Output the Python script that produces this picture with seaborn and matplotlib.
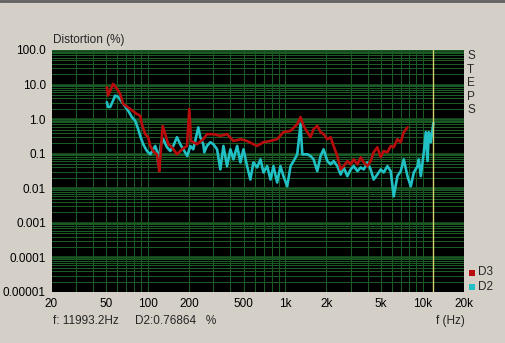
import matplotlib
matplotlib.use("Agg")
import matplotlib.pyplot as plt
import matplotlib.patches as mpatches
from matplotlib.ticker import FixedLocator, LogLocator, NullFormatter
import numpy as np
import pandas as pd
import seaborn as sns

# ---------------- data ----------------
d3_freq = [50.5, 51.6, 56.1, 59.7, 63.1, 66.4, 74.7, 83.5, 88.3, 90.8, 96.1, 101, 104.5, 109.9,
           116.9, 119.5, 121.5, 128.8, 134.4, 141.3, 150.3, 163.5, 177.8, 193.3, 201, 207, 228.6,
           254, 270, 300.7, 338, 378, 421, 473, 529, 588, 626, 696, 783, 875, 973, 1095, 1225,
           1295, 1362, 1449, 1532, 1611, 1714, 1811, 1905, 2028, 2143, 2253, 2398, 2535, 2666,
           2837, 2999, 3154, 3357, 3548, 3733, 3966, 4190, 4406, 4690, 4958, 5214, 5546, 5862,
           6165, 6559, 6934, 7291, 7762]
d3_pct = [8.45, 4.81, 10.5, 7.55, 5.39, 2.76, 1.97, 1.41, 1.26, 0.72, 0.368, 0.30, 0.168, 0.117,
          0.096, 0.056, 0.031, 0.63, 0.37, 0.188, 0.154, 0.096, 0.134, 0.168, 1.97, 0.234, 0.188,
          0.263, 0.368, 0.368, 0.328, 0.368, 0.234, 0.263, 0.234, 0.188, 0.168, 0.215, 0.234, 0.263,
          0.421, 0.459, 0.72, 1.15, 0.643, 0.421, 0.30, 0.514, 0.643, 0.421, 0.368, 0.263, 0.30,
          0.168, 0.0857, 0.0351, 0.0437, 0.0612, 0.0491, 0.0687, 0.0491, 0.0785, 0.0561, 0.0437,
          0.0612, 0.110, 0.154, 0.0785, 0.120, 0.110, 0.168, 0.154, 0.263, 0.215, 0.421, 0.577]

d2_freq = [50.5, 51.6, 53.4, 56.1, 58.0, 61.1, 66.4, 72.2, 76.8, 81.2, 85.4, 88.3, 92.9, 98.8,
           104.5, 109.9, 113.6, 116.9, 119.5, 125, 130, 138.3, 146.2, 153.7, 163.5, 172.8, 181.8,
           194.4, 204.5, 214.9, 233.6, 241.7, 254, 258.6, 270, 286, 300.7, 320, 338, 356, 378, 400,
           421, 448, 473, 498, 529, 559, 588, 626, 662, 696, 741, 783, 823, 875, 925, 973, 1036,
           1095, 1152, 1225, 1295, 1333, 1449, 1532, 1611, 1714, 1811, 1905, 2028, 2143, 2253,
           2398, 2535, 2666, 2837, 2999, 3154, 3357, 3548, 3733, 3966, 4190, 4406, 4690, 4958,
           5214, 5546, 5862, 6165, 6559, 6934, 7291, 7762, 8204, 8630, 9185, 9380, 9705, 10200,
           10550, 10860, 11100, 11480, 11810, 11993]
d2_pct = [3.09, 2.25, 2.25, 3.44, 4.81, 4.41, 2.76, 1.76, 1.15, 0.898, 0.514, 0.328, 0.188, 0.120,
          0.096, 0.134, 0.168, 0.120, 0.0491, 0.188, 0.263, 0.154, 0.120, 0.168, 0.30, 0.188, 0.134,
          0.0857, 0.168, 0.134, 0.577, 0.30, 0.188, 0.110, 0.168, 0.215, 0.188, 0.134, 0.0351, 0.168,
          0.0437, 0.134, 0.0687, 0.168, 0.0561, 0.134, 0.0437, 0.0179, 0.0561, 0.0401, 0.0687,
          0.0287, 0.0437, 0.0179, 0.0437, 0.0147, 0.0437, 0.0224, 0.0114, 0.0437, 0.0612, 0.096,
          0.72, 0.096, 0.096, 0.0857, 0.0687, 0.0313, 0.0857, 0.134, 0.0612, 0.0491, 0.0612,
          0.0437, 0.0251, 0.0401, 0.0224, 0.0351, 0.0437, 0.0313, 0.0401, 0.0351, 0.0561, 0.0351,
          0.0179, 0.0251, 0.0351, 0.0287, 0.0437, 0.0313, 0.00585, 0.0224, 0.0313, 0.0687, 0.0224,
          0.0114, 0.0287, 0.0437, 0.0687, 0.0224, 0.110, 0.421, 0.0612, 0.421, 0.215, 0.514, 0.769]

cursor_freq = 11993.2
cursor_value = 0.76864

x_ticks = [20, 50, 100, 200, 500, 1000, 2000, 5000, 10000, 20000]
x_labels = ["20", "50", "100", "200", "500", "1k", "2k", "5k", "10k", "20k"]
y_ticks = [100, 10, 1, 0.1, 0.01, 0.001, 0.0001, 0.00001]
y_labels = ["100.0", "10.0", "1.0", "0.1", "0.01", "0.001", "0.0001", "0.00001"]

series_names = ["D3", "D2"]
series_colors = {"D3": "#b80c0c", "D2": "#20c0c4"}

df = pd.concat([
    pd.DataFrame({"f": d2_freq, "pct": d2_pct, "series": "D2"}),
    pd.DataFrame({"f": d3_freq, "pct": d3_pct, "series": "D3"}),
])

# ---------------- style ----------------
sns.set_style("dark")
plt.rcParams["font.family"] = ["Liberation Sans", "DejaVu Sans"]
BG = "#d4d0c8"
GRID = "#1a5a24"

fig = plt.figure(figsize=(5.05, 3.43), dpi=100, facecolor=BG)
ax = fig.add_axes([51.5 / 505, 1 - 292 / 343, (464 - 51.5) / 505, (292 - 50) / 343])
ax.set_facecolor("black")

ax.set_xscale("log")
ax.set_yscale("log")
ax.set_xlim(20, 20000)
ax.set_ylim(1e-5, 100)

# grid
ax.xaxis.set_major_locator(FixedLocator(x_ticks))
ax.xaxis.set_minor_locator(LogLocator(base=10, subs=np.arange(2, 10)))
ax.xaxis.set_minor_formatter(NullFormatter())
ax.yaxis.set_major_locator(FixedLocator(y_ticks))
ax.yaxis.set_minor_locator(LogLocator(base=10, subs=np.arange(2, 10), numticks=20))
ax.yaxis.set_minor_formatter(NullFormatter())
ax.grid(True, which="minor", axis="both", color=GRID, linewidth=0.75)
ax.grid(True, which="major", axis="both", color=GRID, linewidth=0.75)
for dec in [100, 10, 1, 0.1, 0.01, 0.001, 0.0001]:
    ax.axhline(dec, color=GRID, linewidth=1.8, zorder=1)

ax.set_xticks(x_ticks)
ax.set_xticklabels(x_labels)
ax.set_yticks(y_ticks)
ax.set_yticklabels(y_labels)
ax.tick_params(which="both", length=0, labelsize=8.5, colors="#000000", pad=4)
for s in ax.spines.values():
    s.set_visible(False)

# data lines
sns.lineplot(data=df, x="f", y="pct", hue="series", hue_order=["D2", "D3"],
             palette=series_colors, estimator=None, sort=False, linewidth=1.9,
             legend=False, ax=ax, zorder=3)

# cursor
ax.axvline(cursor_freq, color="#d0d070", linewidth=1.0, zorder=4)

ax.set_xlabel("")
ax.set_ylabel("")

# texts
fig.text(53 / 505, 1 - 40 / 343, "Distortion (%)", fontsize=8.5, va="center", ha="left")
for i, ch in enumerate("STEPS"):
    fig.text(467 / 505, 1 - (56 + i * 13.6) / 343, ch, fontsize=8.5, va="center", ha="left")

for i, name in enumerate(series_names):
    yc = 272 + i * 14.5
    fig.patches.append(mpatches.Rectangle((469 / 505, 1 - (yc + 3.5) / 343), 6 / 505, 6 / 343,
                                          transform=fig.transFigure, facecolor=series_colors[name],
                                          edgecolor="none"))
    fig.text(478 / 505, 1 - yc / 343, name, fontsize=8.5, va="center", ha="left")

fig.text(53 / 505, 1 - 321 / 343, f"f: {cursor_freq:.1f}Hz", fontsize=8.5, va="center", ha="left")
fig.text(135 / 505, 1 - 321 / 343, f"D2:{cursor_value:.5f}   %", fontsize=8.5, va="center", ha="left")
fig.text(436 / 505, 1 - 321 / 343, "f (Hz)", fontsize=8.5, va="center", ha="left")

# top border
fig.add_artist(plt.Line2D([0, 1], [1 - 1 / 343, 1 - 1 / 343], transform=fig.transFigure,
                          color="#606060", linewidth=2))

fig.savefig("out.png", dpi=100, facecolor=BG)
